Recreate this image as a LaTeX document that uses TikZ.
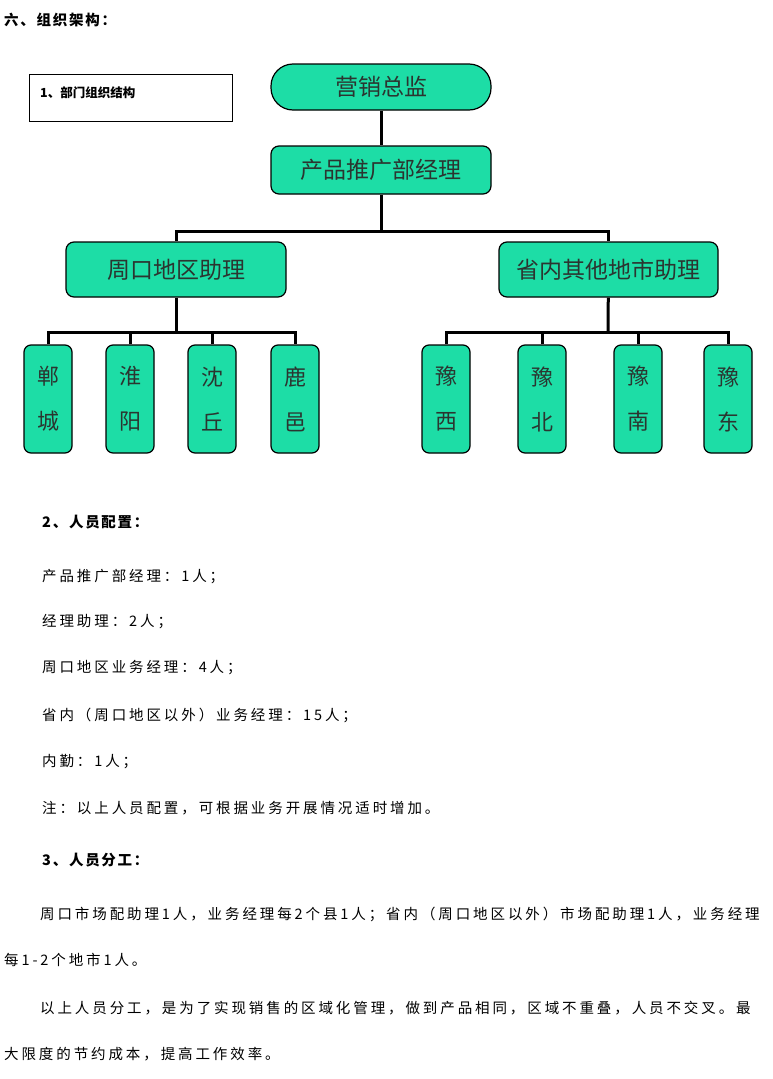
\documentclass[tikz,border=0pt]{standalone}
\usepackage{fontspec}
\setmainfont{Noto Sans CJK SC}
\definecolor{boxg}{HTML}{1DDDA6}
\definecolor{txtc}{HTML}{2B3530}
\begin{document}
\begin{tikzpicture}[x=1pt,y=-1pt,
  org/.style={draw=black,line width=1.2pt,fill=boxg,rounded corners=8pt,text=txtc,font=\fontsize{23}{26}\selectfont,inner sep=0pt},
  city/.style={org,minimum width=48pt,minimum height=108pt,rounded corners=7pt,align=center,font=\fontsize{22}{45}\selectfont},
  conn/.style={line width=3pt},
  body/.style={anchor=west,font=\fontsize{14.5}{16}\selectfont\addfontfeature{LetterSpace=20},inner sep=0pt},
  head/.style={body,font=\fontsize{14.5}{16}\selectfont\bfseries\addfontfeature{LetterSpace=12}}]
\useasboundingbox[fill=white] (0,0) rectangle (772,1079);
\node[head] (t0) at (4,20) {六、组织架构：};
\node[draw,line width=0.8pt,minimum width=203pt,minimum height=47pt,inner sep=0pt] (lb) at (130.5,97.5) {};
\node[head,font=\fontsize{12.5}{14}\selectfont\bfseries] (lbt) at (40,93) {1、部门组织结构};
\node[org,minimum width=220pt,minimum height=46pt,rounded corners=22pt] (top) at (381,87) {营销总监};
\node[org,minimum width=220pt,minimum height=48pt] (mgr) at (381,170) {产品推广部经理};
\node[org,minimum width=220pt,minimum height=55pt] (zk) at (176,269.5) {周口地区助理};
\node[org,minimum width=219pt,minimum height=55pt] (sn) at (608.5,269.5) {省内其他地市助理};
\node[city] (c1) at (48,399) {郸\\城};
\node[city] (c2) at (130,399) {淮\\阳};
\node[city] (c3) at (212,399) {沈\\丘};
\node[city] (c4) at (295,399) {鹿\\邑};
\node[city] (c5) at (446,399) {豫\\西};
\node[city] (c6) at (542,399) {豫\\北};
\node[city] (c7) at (638,399) {豫\\南};
\node[city] (c8) at (728,399) {豫\\东};
\draw[conn] (top) -- (mgr);
\coordinate (j1) at (381,232);
\draw[conn] (mgr) -- (j1);
\draw[conn] (zk.north) -- ++(0,-10) -| (sn.north);
\coordinate (j2) at (176,333);
\draw[conn] (zk) -- (j2);
\draw[conn] (c1.north) -- ++(0,-12) -| (c4.north);
\draw[conn] (c2.north) -- ++(0,-12);
\draw[conn] (c3.north) -- ++(0,-12);
\coordinate (j3) at (608,333);
\draw[conn] (sn) -- (j3);
\draw[conn] (c5.north) -- ++(0,-12) -| (c8.north);
\draw[conn] (c6.north) -- ++(0,-12);
\draw[conn] (c7.north) -- ++(0,-12);
\node[head] (h2) at (42,522) {2、人员配置：};
\node[body] (l1) at (42,577) {产品推广部经理：1人；};
\node[body] (l2) at (42,622) {经理助理：2人；};
\node[body] (l3) at (42,668) {周口地区业务经理：4人；};
\node[body] (l4) at (42,715) {省内（周口地区以外）业务经理：15人；};
\node[body] (l5) at (42,762) {内勤：1人；};
\node[body] (l6) at (42,808) {注：以上人员配置，可根据业务开展情况适时增加。};
\node[head] (h3) at (42,860) {3、人员分工：};
\node[body] (p1) at (40,914) {周口市场配助理1人，业务经理每2个县1人；省内（周口地区以外）市场配助理1人，业务经理};
\node[body] (p2) at (4,960) {每1-2个地市1人。};
\node[body] (p3) at (40,1008) {以上人员分工，是为了实现销售的区域化管理，做到产品相同，区域不重叠，人员不交叉。最};
\node[body] (p4) at (4,1054) {大限度的节约成本，提高工作效率。};
\end{tikzpicture}
\end{document}
